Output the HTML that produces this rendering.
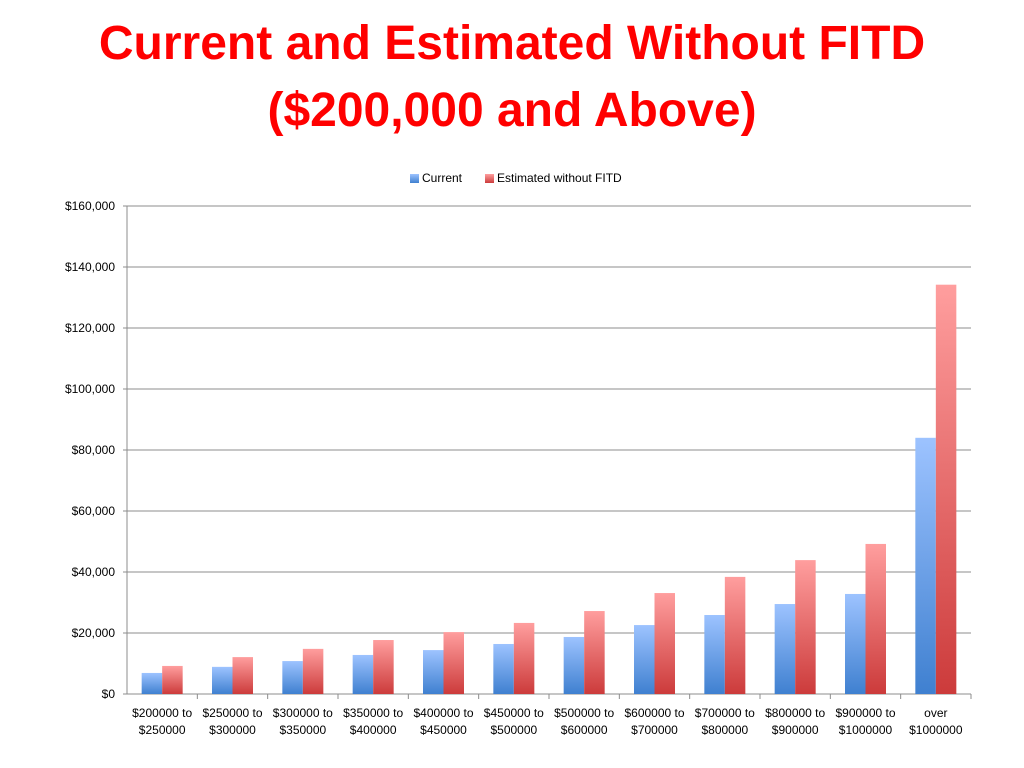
<!DOCTYPE html>
<html><head><meta charset="utf-8"><style>
body{margin:0;background:#fff;width:1024px;height:768px;overflow:hidden;font-family:"Liberation Sans",sans-serif}
#title{position:absolute;left:0;top:10px;width:1024px;text-align:center;color:#ff0000;font-weight:bold;font-size:48px;line-height:67px}
</style></head><body>
<div id="title">Current and Estimated Without FITD<br>($200,000 and Above)</div>
<svg id="chart" width="1024" height="768" style="position:absolute;left:0;top:0">
<defs>
<linearGradient id="gb" x1="0" y1="0" x2="0" y2="1"><stop offset="0" stop-color="#9dc3ff"/><stop offset="1" stop-color="#3f80d0"/></linearGradient>
<linearGradient id="gr" x1="0" y1="0" x2="0" y2="1"><stop offset="0" stop-color="#ff9e9e"/><stop offset="1" stop-color="#cc3b3b"/></linearGradient>
</defs>
</svg>
<script>
const categories=[["$200000 to","$250000"],["$250000 to","$300000"],["$300000 to","$350000"],["$350000 to","$400000"],["$400000 to","$450000"],["$450000 to","$500000"],["$500000 to","$600000"],["$600000 to","$700000"],["$700000 to","$800000"],["$800000 to","$900000"],["$900000 to","$1000000"],["over","$1000000"]];
const current=[6900,8900,10800,12800,14400,16400,18700,22600,25900,29500,32800,84000];
const estimated=[9200,12100,14800,17700,20300,23300,27200,33100,38400,43900,49200,134200];
const ticks=[0,20000,40000,60000,80000,100000,120000,140000,160000];
const tickLabels=["$0","$20,000","$40,000","$60,000","$80,000","$100,000","$120,000","$140,000","$160,000"];
const svg=document.getElementById('chart');
const NS='http://www.w3.org/2000/svg';
const X0=127,X1=971,Y0=694,Y1=206,MAX=160000;
const y=v=>Y0-(v/MAX)*(Y0-Y1);
const cw=(X1-X0)/categories.length;
function mk(t,a){const e=document.createElementNS(NS,t);for(const k in a)e.setAttribute(k,a[k]);svg.appendChild(e);return e;}
ticks.forEach((t,i)=>{
 const g=mk('line',{x1:X0-4,x2:X1,y1:y(t),y2:y(t),stroke:'#8c8c8c','stroke-width':1});
 
 
 const l=mk('text',{x:X0-12,y:y(t)+4,'text-anchor':'end','font-size':12,fill:'#000'});
 l.textContent=tickLabels[i];
 
 
});
const ax=mk('line',{x1:X0,x2:X0,y1:Y1,y2:Y0,stroke:'#8c8c8c'});


const bw=20.5;
categories.forEach((c,i)=>{
 const cx=X0+i*cw;
 const t=mk('line',{x1:cx+cw,x2:cx+cw,y1:Y0,y2:Y0+5,stroke:'#8c8c8c'});
 
 
 const b1=mk('rect',{x:cx+cw/2-bw,y:y(current[i]),width:bw,height:Y0-y(current[i]),fill:'url(#gb)'});
 
 
 const b2=mk('rect',{x:cx+cw/2,y:y(estimated[i]),width:bw,height:Y0-y(estimated[i]),fill:'url(#gr)'});
 
 
 c.forEach((s,j)=>{
  const l=mk('text',{x:cx+cw/2,y:717+j*17,'text-anchor':'middle','font-size':12,fill:'#000'});
  l.textContent=s;
  
  
 });
});
const lg=[["Current","url(#gb)",410],["Estimated without FITD","url(#gr)",485]];
lg.forEach(d=>{
 const r=mk('rect',{x:d[2],y:174,width:9,height:9,fill:d[1]});
 
 
 const t=mk('text',{x:d[2]+12,y:182,'font-size':12,fill:'#000'});
 t.textContent=d[0];
 
 
});
</script>
</body></html>
